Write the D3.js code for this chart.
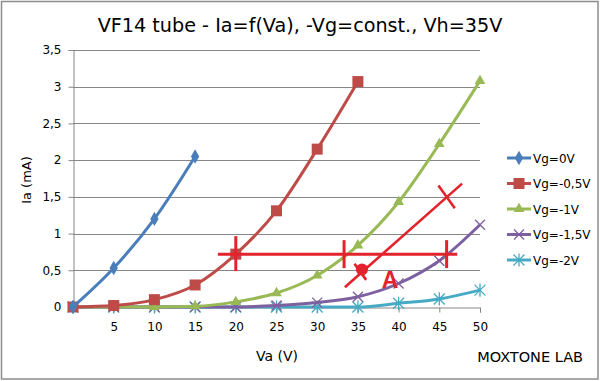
<!DOCTYPE html>
<html><head><meta charset="utf-8">
<script src="https://cdn.jsdelivr.net/npm/d3@7"></script>
<style>body{margin:0;background:#fff}svg{display:block}</style>
</head><body>
<script>
const va = [0, 5, 10, 15, 20, 25, 30, 35, 40, 45, 50];
const vg0  = [0, 0.53, 1.20, 2.05];
const vg05 = [0, 0.02, 0.10, 0.30, 0.72, 1.31, 2.15, 3.07];
const vg1  = [0, 0, 0, 0.01, 0.07, 0.19, 0.43, 0.84, 1.43, 2.22, 3.08];
const vg15 = [0, 0, 0, 0, 0, 0.02, 0.06, 0.14, 0.32, 0.63, 1.12];
const vg2  = [0, 0, 0, 0, 0, 0, 0, 0, 0.05, 0.11, 0.23];
const seriesNames = ["Vg=0V", "Vg=-0,5V", "Vg=-1V", "Vg=-1,5V", "Vg=-2V"];
const seriesColors = ["#4A7EBB", "#BE4B48", "#98B954", "#7D60A0", "#46AAC5"];
const seriesMarkers = ["diamond", "square", "triangle", "x", "star"];
const xTicks = [5, 10, 15, 20, 25, 30, 35, 40, 45, 50];
const yTicks = [0, 0.5, 1, 1.5, 2, 2.5, 3, 3.5];
// annotation (operating point drawing), in data units
const loadLine = {y: 0.72, x0: 17.8, x1: 47.2};
const loadTicks = [33.3, 45.9];
const crossPt = {x: 20, y: 0.72};
const diag = {x0: 33.4, y0: 0.27, x1: 47.8, y1: 1.68};
const bigX = [{x: 45.9, y: 1.50, half: 14}, {x: 35.3, y: 0.48, half: 10}];
const dotPt = {x: 35.5, y: 0.51};
const labelA = {x: 38.95, y: 0.26, text: "A"};

const W = 600, H = 381;
const svg = d3.select("body").append("svg").attr("width", W).attr("height", H);
svg.append("rect").attr("x", 1.5).attr("y", 1.5).attr("width", W - 3.5).attr("height", H - 3.5)
  .attr("fill", "#fff").attr("stroke", "#8c8c8c").attr("stroke-width", 1.5);

const x = d3.scaleLinear().domain([0, 50]).range([73, 480]);
const y = d3.scaleLinear().domain([0, 3.5]).range([307, 50]);
const font = "DejaVu Sans, Verdana, sans-serif";

// gridlines
svg.append("g").selectAll("line").data(yTicks.filter(d => d > 0)).join("line")
  .attr("x1", 73).attr("x2", 480).attr("y1", d => Math.round(y(d)) + 0.5).attr("y2", d => Math.round(y(d)) + 0.5)
  .attr("stroke", "#868686").attr("stroke-width", 1);

// y axis
const yAxis = d3.axisLeft(y).tickValues(yTicks).tickSize(5).tickPadding(7)
  .tickFormat(d => String(d).replace(".", ","));
const gy = svg.append("g").attr("transform", "translate(73.5,0)").call(yAxis);
// x axis
const xAxis = d3.axisBottom(x).tickValues(xTicks).tickSize(5).tickPadding(10);
const gx = svg.append("g").attr("transform", "translate(0,307.5)").call(xAxis);
[gx, gy].forEach(g => {
  g.select(".domain").attr("stroke", "#868686");
  g.selectAll(".tick line").attr("stroke", "#868686");
  g.selectAll("text").attr("font-family", font).attr("font-size", 12).attr("fill", "#000");
});

// series
const allSeries = [vg0, vg05, vg1, vg15, vg2];
const line = d3.line().x(d => x(d[0])).y(d => y(d[1])).curve(d3.curveMonotoneX);
const markerPath = (type, s) => {
  switch (type) {
    case "diamond": return d3.symbol(d3.symbolDiamond, s * s * 0.6)();
    case "square": return `M${-s/2},${-s/2}h${s}v${s}h${-s}Z`;
    case "triangle": return d3.symbol(d3.symbolTriangle, s * s * 0.5)();
    case "x": return `M${-s/2},${-s/2}L${s/2},${s/2}M${-s/2},${s/2}L${s/2},${-s/2}`;
    case "star": return `M${-s/2},${-s/2}L${s/2},${s/2}M${-s/2},${s/2}L${s/2},${-s/2}M0,${-s*0.6}V${s*0.6}`;
  }
};
const markerSize = [10, 11, 10, 10, 11];
for (let i = allSeries.length - 1; i >= 0; i--) {
  const pts = allSeries[i].map((v, k) => [va[k], v]);
  const g = svg.append("g");
  g.append("path").attr("d", line(pts)).attr("fill", "none")
    .attr("stroke", seriesColors[i]).attr("stroke-width", 3).attr("stroke-linejoin", "round");
  const isStroke = seriesMarkers[i] === "x" || seriesMarkers[i] === "star";
  g.selectAll("path.m").data(pts).join("path").attr("class", "m")
    .attr("transform", d => `translate(${x(d[0])},${y(d[1])})`)
    .attr("d", markerPath(seriesMarkers[i], markerSize[i]))
    .attr("fill", isStroke ? "none" : seriesColors[i])
    .attr("stroke", seriesColors[i]).attr("stroke-width", isStroke ? 1.3 : 0);
}

// annotation
const red = "#E3222B";
const ann = svg.append("g").attr("stroke", red).attr("stroke-width", 3).attr("fill", "none");
ann.append("line").attr("x1", x(loadLine.x0)).attr("x2", x(loadLine.x1)).attr("y1", y(loadLine.y)).attr("y2", y(loadLine.y));
ann.selectAll("line.t").data(loadTicks).join("line").attr("class", "t")
  .attr("x1", d => x(d)).attr("x2", d => x(d)).attr("y1", y(loadLine.y) - 14).attr("y2", y(loadLine.y) + 14);
ann.append("line").attr("x1", x(crossPt.x)).attr("x2", x(crossPt.x)).attr("y1", y(crossPt.y) - 18).attr("y2", y(crossPt.y) + 17);
ann.append("line").attr("stroke-width", 2.6).attr("x1", x(diag.x0)).attr("y1", y(diag.y0)).attr("x2", x(diag.x1)).attr("y2", y(diag.y1));
const slope = (y(diag.y1) - y(diag.y0)) / (x(diag.x1) - x(diag.x0));
bigX.forEach(p => {
  const cx = x(p.x), cy = y(p.y), L = p.half;
  const ang = Math.atan(slope) + Math.PI / 2 + 0.1;
  ann.append("line").attr("stroke-width", 2.6)
    .attr("x1", cx - L * Math.cos(ang)).attr("y1", cy - L * Math.sin(ang))
    .attr("x2", cx + L * Math.cos(ang)).attr("y2", cy + L * Math.sin(ang));
});
svg.append("circle").attr("cx", x(dotPt.x)).attr("cy", y(dotPt.y)).attr("r", 6).attr("fill", red);
svg.append("text").attr("x", x(labelA.x)).attr("y", y(labelA.y)).attr("text-anchor", "middle")
  .attr("font-family", "Liberation Sans, Arial, sans-serif").attr("font-weight", "bold").attr("font-size", 23)
  .attr("fill", red).text(labelA.text);

// titles
svg.append("text").attr("x", 300).attr("y", 32).attr("text-anchor", "middle")
  .attr("font-family", font).attr("font-size", 19.2).attr("fill", "#000")
  .text("VF14 tube - Ia=f(Va), -Vg=const., Vh=35V");
svg.append("text").attr("transform", "translate(31,180) rotate(-90)").attr("text-anchor", "middle")
  .attr("font-family", font).attr("font-size", 13).attr("fill", "#000").text("Ia (mA)");
svg.append("text").attr("x", 277).attr("y", 361).attr("text-anchor", "middle")
  .attr("font-family", font).attr("font-size", 14).attr("fill", "#000").text("Va (V)");
svg.append("text").attr("x", 583).attr("y", 362).attr("text-anchor", "end")
  .attr("font-family", font).attr("font-size", 14.5).attr("fill", "#000").text("MOXTONE LAB");

// legend
const lg = svg.append("g");
seriesNames.forEach((name, i) => {
  const ly = 158 + i * 25.5;
  const g = lg.append("g").attr("transform", `translate(507,${ly})`);
  g.append("line").attr("x1", 0).attr("x2", 24).attr("stroke", seriesColors[i]).attr("stroke-width", 3);
  const isStroke = seriesMarkers[i] === "x" || seriesMarkers[i] === "star";
  g.append("path").attr("transform", "translate(12,0)").attr("d", markerPath(seriesMarkers[i], markerSize[i]))
    .attr("fill", isStroke ? "none" : seriesColors[i]).attr("stroke", seriesColors[i]).attr("stroke-width", isStroke ? 1.3 : 0);
  g.append("text").attr("x", 26).attr("y", 4.5).attr("font-family", font).attr("font-size", 12).attr("fill", "#000").text(name);
});
</script>
</body></html>
